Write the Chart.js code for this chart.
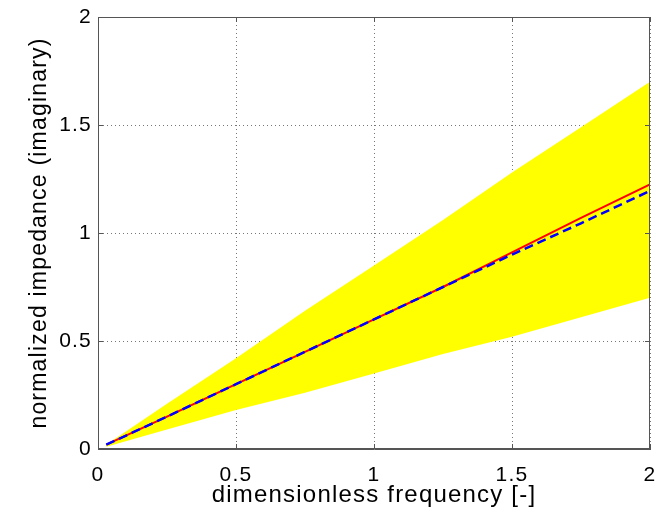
<!DOCTYPE html>
<html>
<head>
<meta charset="utf-8">
<script src="https://cdn.jsdelivr.net/npm/chart.js@4/dist/chart.umd.min.js"></script>
<style>
  html, body { margin: 0; padding: 0; background: #fff; }
  #plot { display: block; }
</style>
</head>
<body>
<canvas id="plot" width="656" height="512"></canvas>
<script>
// === DATA ===
let freq       = [0.03, 0.25, 0.5, 0.75, 1.0, 1.25, 1.5, 1.75, 2.0];
let bandUpper  = [0.02, 0.21, 0.42, 0.64, 0.85, 1.06, 1.28, 1.49, 1.70];
let bandLower  = [0.01, 0.09, 0.18, 0.26, 0.35, 0.44, 0.52, 0.61, 0.70];
let redLine    = [0.02, 0.15, 0.30, 0.45, 0.60, 0.75, 0.91, 1.07, 1.225];
let blueLine   = [0.02, 0.15, 0.30, 0.45, 0.60, 0.75, 0.90, 1.045, 1.195];
let xTicks = [0, 0.5, 1, 1.5, 2];
let yTicks = [0, 0.5, 1, 1.5, 2];

function pts(ys) {
  return freq.map((f, i) => ({ x: f, y: ys[i] }));
}

const FONT = "'Liberation Sans', Arial, Helvetica, sans-serif";

// the original's text is a bit wider than Liberation Sans
const spacingPlugin = {
  id: 'spacing',
  beforeUpdate(chart) { chart.ctx.letterSpacing = '1.2px'; },
  beforeDraw(chart) { chart.ctx.letterSpacing = '1.2px'; }
};

// box round the plot plus small inward ticks, like the original figure
const boxPlugin = {
  id: 'box',
  afterDraw(chart) {
    const { ctx, chartArea: a, scales } = chart;
    ctx.save();
    ctx.setLineDash([]);
    ctx.strokeStyle = '#555';
    ctx.lineWidth = 1;
    ctx.strokeRect(a.left + 0.5, a.top + 0.5, a.right - a.left - 1, a.bottom - a.top - 1);
    ctx.beginPath();
    xTicks.forEach(v => {
      let px = Math.round(scales.x.getPixelForValue(v)) + 0.5;
      ctx.moveTo(px, a.bottom); ctx.lineTo(px, a.bottom - 5);
      ctx.moveTo(px, a.top); ctx.lineTo(px, a.top + 5);
    });
    yTicks.forEach(v => {
      let py = Math.round(scales.y.getPixelForValue(v)) + 0.5;
      ctx.moveTo(a.left, py); ctx.lineTo(a.left + 5, py);
      ctx.moveTo(a.right, py); ctx.lineTo(a.right - 5, py);
    });
    ctx.stroke();
    ctx.restore();
  }
};

let chart = new Chart(document.getElementById('plot'), {
  type: 'line',
  data: {
    datasets: [
      { data: pts(blueLine), borderColor: '#0000ff', borderWidth: 2.5, borderDash: [9, 5], fill: false },
      { data: pts(redLine), borderColor: '#ff0000', borderWidth: 2, fill: false },
      { data: pts(bandUpper), borderWidth: 0, borderColor: 'rgba(0,0,0,0)', backgroundColor: '#ffff00', fill: '+1' },
      { data: pts(bandLower), borderWidth: 0, borderColor: 'rgba(0,0,0,0)', fill: false }
    ]
  },
  options: {
    responsive: false,
    animation: false,
    events: [],
    layout: { padding: { top: 17, right: 6, left: 0, bottom: 0 } },
    elements: { point: { radius: 0 }, line: { tension: 0 } },
    plugins: { legend: { display: false }, tooltip: { enabled: false } },
    scales: {
      x: {
        type: 'linear', min: 0, max: 2,
        afterBuildTicks: s => { s.ticks = xTicks.map(v => ({ value: v })); },
        afterFit: s => { s.height = 63; s.paddingLeft = 0; s.paddingRight = 0; },
        ticks: { color: '#000', font: { family: FONT, size: 21 }, padding: 14, maxRotation: 0,
                 callback: v => String(v) },
        grid: { color: '#777', drawTicks: false },
        border: { color: '#555', width: 1, dash: [1, 3] },
        title: { display: true, text: 'dimensionless frequency [-]', color: '#000',
                 font: { family: FONT, size: 24 }, padding: { top: 0, bottom: 2 } }
      },
      y: {
        type: 'linear', min: 0, max: 2,
        afterBuildTicks: s => { s.ticks = yTicks.map(v => ({ value: v })); },
        afterFit: s => { s.width = 98; s.paddingTop = 0; s.paddingBottom = 0; },
        ticks: { color: '#000', font: { family: FONT, size: 21 }, padding: 6,
                 callback: v => String(v) },
        grid: { color: '#777', drawTicks: false },
        border: { color: '#555', width: 1, dash: [1, 3] },
        title: { display: true, text: 'normalized impedance (imaginary)', color: '#000',
                 font: { family: FONT, size: 23 }, padding: { top: 26, bottom: 0 } }
      }
    }
  },
  plugins: [spacingPlugin, boxPlugin]
});
</script>
</body>
</html>
